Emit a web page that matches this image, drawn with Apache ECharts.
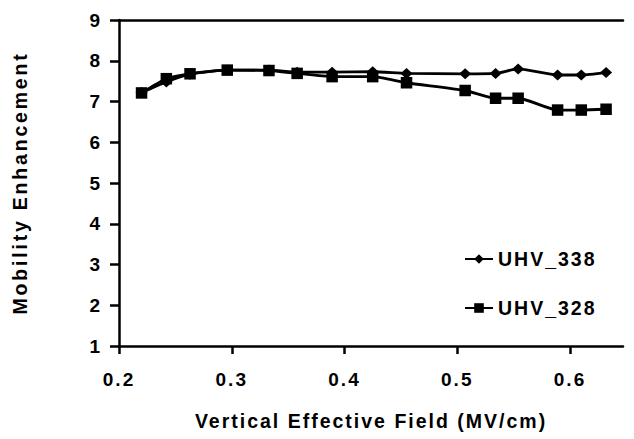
<!DOCTYPE html>
<html>
<head>
<meta charset="utf-8">
<style>
  html, body { margin: 0; padding: 0; background: #fff; }
  #chart { width: 634px; height: 439px; }
  #chart text { letter-spacing: 2px; }
</style>
<script src="https://cdn.jsdelivr.net/npm/echarts@6/dist/echarts.min.js"></script>
</head>
<body>
<div id="chart"></div>
<script>
// field values (MV/cm), shared by both series
var fieldValues = [0.220, 0.242, 0.263, 0.296, 0.333, 0.358, 0.389, 0.425, 0.455, 0.507, 0.534, 0.554, 0.589, 0.610, 0.632];
// UHV_338 (diamonds)
var uhv338 = [7.22, 7.48, 7.67, 7.77, 7.77, 7.72, 7.72, 7.73, 7.69, 7.68, 7.69, 7.80, 7.65, 7.65, 7.71];
// UHV_328 (squares)
var uhv328 = [7.21, 7.56, 7.68, 7.77, 7.76, 7.69, 7.61, 7.61, 7.46, 7.27, 7.08, 7.08, 6.79, 6.79, 6.81];
// x tick labels
var xTicks = [0.2, 0.3, 0.4, 0.5, 0.6];

function pairs(xs, ys) {
  return xs.map(function (x, i) { return [x, ys[i]]; });
}

var font = 'Liberation Sans, Arial, sans-serif';
var black = '#000';

var chartDom = document.getElementById('chart');
var myChart = echarts.init(chartDom, null, { renderer: 'svg' });

var option = {
  animation: false,
  backgroundColor: '#fff',
  grid: { left: 119, right: 11, top: 20, bottom: 93 },
  legend: {
    orient: 'vertical',
    left: 459,
    top: 244,
    itemWidth: 28,
    itemHeight: 12,
    itemGap: 29,
    textStyle: { color: black, fontFamily: font, fontWeight: 'bold', fontSize: 19.5 },
    data: ['UHV_338', 'UHV_328']
  },
  xAxis: [
    {
      type: 'value',
      min: 0.2,
      max: 0.647,
      name: 'Vertical Effective Field (MV/cm)',
      nameLocation: 'middle',
      nameGap: 65,
      nameTextStyle: { color: black, fontFamily: font, fontWeight: 'bold', fontSize: 19.5 },
      splitLine: { show: false },
      axisLine: { lineStyle: { color: black, width: 2.5 } },
      axisTick: { customValues: xTicks, length: 8, lineStyle: { color: black, width: 2.5 } },
      axisLabel: {
        customValues: xTicks,
        margin: 24,
        color: black, fontFamily: font, fontWeight: 'bold', fontSize: 19,
        formatter: function (v) { return v.toFixed(1); }
      }
    },
    {
      type: 'value',
      position: 'top',
      min: 0.2,
      max: 0.647,
      splitLine: { show: false },
      axisLine: { show: true, lineStyle: { color: black, width: 2.5 } },
      axisTick: { show: false },
      axisLabel: { show: false }
    }
  ],
  yAxis: {
    type: 'value',
    min: 1,
    max: 9,
    interval: 1,
    name: 'Mobility Enhancement',
    nameLocation: 'middle',
    nameGap: 89,
    nameTextStyle: { color: black, fontFamily: font, fontWeight: 'bold', fontSize: 19.5 },
    splitLine: { show: false },
    axisLine: { show: true, lineStyle: { color: black, width: 2.5 } },
    axisTick: { show: true, length: 9, lineStyle: { color: black, width: 2.5 } },
    axisLabel: { margin: 17, color: black, fontFamily: font, fontWeight: 'bold', fontSize: 19 }
  },
  series: [
    {
      name: 'UHV_338',
      type: 'line',
      smooth: 0.2,
      symbol: 'diamond',
      symbolSize: [12, 11],
      itemStyle: { color: black },
      lineStyle: { color: black, width: 2.8 },
      data: pairs(fieldValues, uhv338)
    },
    {
      name: 'UHV_328',
      type: 'line',
      smooth: 0.2,
      symbol: 'rect',
      symbolSize: 11.5,
      itemStyle: { color: black },
      lineStyle: { color: black, width: 2.8 },
      data: pairs(fieldValues, uhv328)
    }
  ]
};

myChart.on('finished', function () {
  var texts = chartDom.querySelectorAll('text');
  texts.forEach(function (t) {
    if (t.textContent === 'Mobility Enhancement') {
      t.style.letterSpacing = '2.8px';
    }
  });
});

myChart.setOption(option);
</script>
</body>
</html>
